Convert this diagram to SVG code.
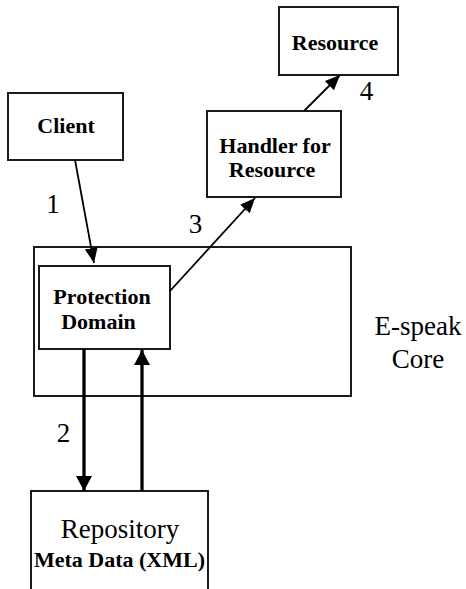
<svg xmlns="http://www.w3.org/2000/svg" width="466" height="589" viewBox="0 0 466 589">
<style>
.box{fill:#fff;stroke:#1a1a1a;stroke-width:2}
.core{fill:none;stroke:#1a1a1a;stroke-width:2}
.b{font-family:"Liberation Serif","Times New Roman",serif;font-weight:bold;font-size:22px;fill:#000;text-anchor:middle}
.r{font-family:"Liberation Serif","Times New Roman",serif;font-size:27px;fill:#000;text-anchor:middle}
.thin{stroke:#000;stroke-width:1.8;fill:none}
.thick{stroke:#000;stroke-width:3.3;fill:none}
</style>
<defs>
<marker id="ah" markerUnits="userSpaceOnUse" markerWidth="15" markerHeight="13" viewBox="0 0 15 13" refX="15" refY="6.5" orient="auto">
<path d="M0,0 L15,6.5 L0,13 Z" fill="#000"/>
</marker>
<marker id="ahb" markerUnits="userSpaceOnUse" markerWidth="15" markerHeight="16" viewBox="0 0 15 16" refX="15" refY="8" orient="auto">
<path d="M0,0 L15,8 L0,16 Z" fill="#000"/>
</marker>
</defs>
<g id="core">
<rect class="core" x="34" y="247" width="317" height="149"/>
<text class="r" x="418" y="335">E-speak</text>
<text class="r" x="418" y="368">Core</text>
</g>
<g id="resource">
<rect class="box" x="279" y="7" width="119" height="68"/>
<text class="b" x="335" y="50">Resource</text>
</g>
<g id="client">
<rect class="box" x="8" y="93" width="115" height="67"/>
<text class="b" x="66" y="133">Client</text>
</g>
<g id="handler">
<rect class="box" x="207" y="111" width="134" height="86"/>
<text class="b" x="275" y="153">Handler for</text>
<text class="b" x="272" y="177">Resource</text>
</g>
<g id="protection">
<rect class="box" x="39" y="266" width="131" height="83"/>
<text class="b" x="102" y="304">Protection</text>
<text class="b" x="98.5" y="329">Domain</text>
</g>
<g id="repository">
<rect class="box" x="31" y="491" width="177" height="110"/>
<text class="r" x="120" y="538">Repository</text>
<text class="b" x="119.5" y="567">Meta Data (XML)</text>
</g>
<g id="connectors">
<line class="thin" x1="75" y1="160" x2="94" y2="263" marker-end="url(#ah)"/>
<line class="thin" x1="170" y1="291" x2="255" y2="198" marker-end="url(#ah)"/>
<line class="thin" x1="304" y1="111" x2="340" y2="75" marker-end="url(#ah)"/>
<line class="thick" x1="84" y1="349" x2="84" y2="491" marker-end="url(#ahb)"/>
<line class="thick" x1="142" y1="491" x2="142" y2="350" marker-end="url(#ahb)"/>
<text class="r" x="53" y="213">1</text>
<text class="r" x="63.5" y="442">2</text>
<text class="r" x="195.5" y="233">3</text>
<text class="r" x="366.5" y="100">4</text>
</g>
</svg>
